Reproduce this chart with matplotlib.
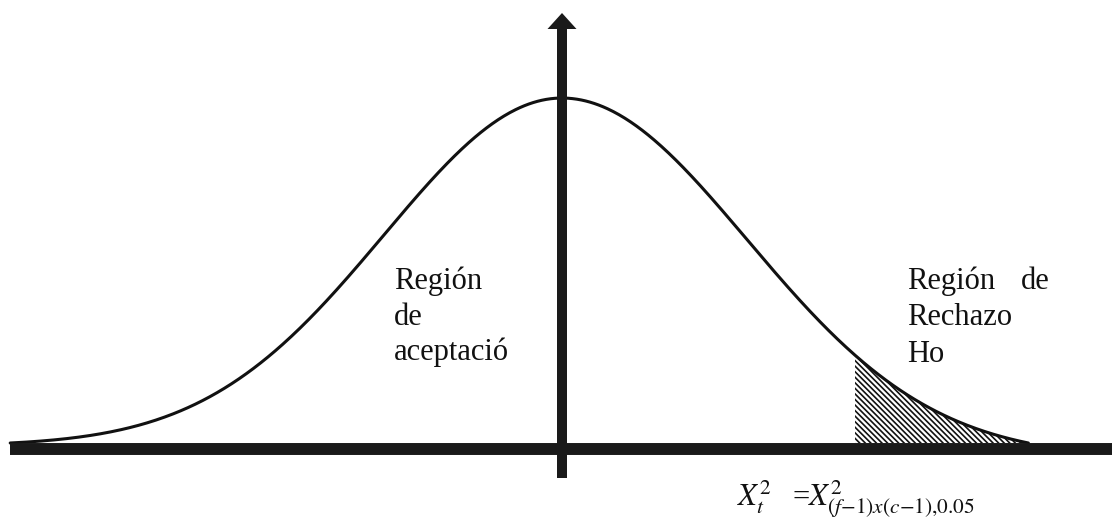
import matplotlib
matplotlib.use("Agg")
import matplotlib.pyplot as plt
import numpy as np

# curve shape (bell curve in z units)
sigma_left = 1.0
sigma_right = 1.04
z_min = -3.10           # where the left tail meets the axis
z_touch = 2.62          # where the right tail meets the axis
z_crit = 1.645          # start of the rejection region
peak = 0.3989

# labels
left_lines = ["Región", "de", "aceptació"]
right_lines = ["Región", "Rechazo", "Ho"]
right_extra = "de"
crit_left = r"$X_t^2$"
crit_eq = "="
crit_right = r"$X^2_{(f{-}1)x(c{-}1){,}0.05}$"

W, H = 1112, 520
plt.rcParams['font.family'] = ['Liberation Serif', 'DejaVu Serif']
plt.rcParams['mathtext.fontset'] = 'stix'
plt.rcParams['hatch.linewidth'] = 1.2

fig = plt.figure(figsize=(W / 100, H / 100), dpi=100)
ax = fig.add_axes([0, 0, 1, 1])
ax.set_axis_off()

# pixel scale: 178 px per unit, 864.8 px per density unit, baseline at y=443
px_x = 178.0
px_y = 864.8
x0_px, y0_px = 562, 443
ax.set_xlim(-x0_px / px_x, (W - x0_px) / px_x)
ax.set_ylim(-(H - y0_px) / px_y, y0_px / px_y)


def bell(z):
    s = np.where(z < 0, sigma_left, sigma_right)
    end = np.where(z < 0, z_min, z_touch)
    g = np.exp(-0.5 * (z / s) ** 2)
    g0 = np.exp(-0.5 * (end / s) ** 2)
    return peak * np.clip((g - g0) / (1 - g0), 0, None)


z = np.linspace(z_min, z_touch, 700)
curve = bell(z)

# hatched rejection region
mask = z >= z_crit
ax.fill_between(z[mask], 0, curve[mask], facecolor='white', edgecolor='#111111',
                hatch='\\\\\\\\\\\\', linewidth=0, zorder=2)

ax.plot(z, curve, color='#111111', lw=2.2, zorder=3, solid_capstyle='round')

# horizontal axis
ax.plot([z_min, ax.get_xlim()[1]], [-6 / px_y, -6 / px_y], color='#1a1a1a',
        lw=8.6, solid_capstyle='butt', zorder=4)

# vertical axis with arrow head
y_bot = -(478 - y0_px) / px_y
y_tip = (y0_px - 13) / px_y
ax.arrow(0, y_bot, 0, y_tip - y_bot, width=10 / px_x, head_width=29 / px_x,
         head_length=16 / px_y, length_includes_head=True,
         color='#1a1a1a', lw=0, zorder=5)


def ptext(x, y, s, size=22):
    fig.text(x / W, 1 - y / H, s, fontsize=size, va='baseline', ha='left',
             color='#111111')


for yb, s in zip([289, 325, 360], left_lines):
    ptext(394, yb, s)
for yb, s in zip([289, 325, 362], right_lines):
    ptext(907, yb, s)
ptext(1021, 289, right_extra)

ptext(737, 506, crit_left)
ptext(792, 506, crit_eq)
ptext(808, 506, crit_right)

fig.savefig("out.png", dpi=100, facecolor='white')
